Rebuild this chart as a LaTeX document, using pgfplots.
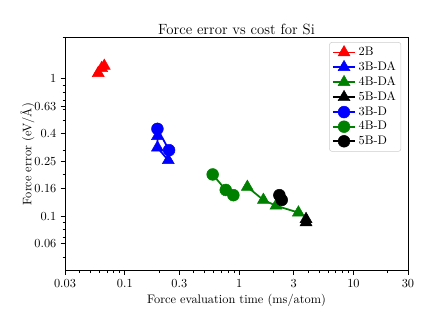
\documentclass[border=0pt]{standalone}
\usepackage{pgfplots}
\pgfplotsset{compat=1.18}
\definecolor{mplgreen}{RGB}{0,128,0}
\begin{document}
\begin{tikzpicture}
\begin{axis}[
  name=ax,
  scale only axis,
  width=278pt, height=189pt,
  xmode=log, ymode=log,
  xmin=0.03, xmax=30, ymin=0.04, ymax=2,
  xtick={0.03,0.1,0.3,1,3,10,30},
  xticklabels={0.03,0.1,0.3,1,3,10,30},
  ytick={0.0631,0.1,0.1585,0.2512,0.3981,0.631,1},
  yticklabels={0.06,0.1,0.16,0.25,0.4,0.63,1},
  minor xtick={0.04,0.05,0.06,0.07,0.08,0.09,0.2,0.4,0.5,0.6,0.7,0.8,0.9,2,4,5,6,7,8,9,20},
  minor ytick={0.05,0.07,0.08,0.09,0.2,0.3,0.5,0.6,0.7,0.8,0.9,2},
  tick pos=left, tick align=outside,
  major tick length=3.5pt, minor tick length=2pt,
  tick style={black, line width=0.6pt},
  axis line style={line width=0.8pt},
  title={Force error vs cost for Si},
  title style={font=\large, yshift=-7pt},
  xlabel={Force evaluation time (ms/atom)},
  ylabel={Force error (eV/\AA)},
  xlabel style={yshift=2pt},
  ylabel shift=-7pt,
  legend style={at={(0.98,0.98)}, anchor=north east, draw=black!20,
    rounded corners=2pt, font=\normalsize, row sep=-0.5pt, inner sep=2pt},
  legend cell align=left,
  legend image code/.code={\draw[mark repeat=2,mark phase=2]
    plot coordinates {(0cm,0cm)(0.32cm,0cm)(0.64cm,0cm)};},
  every axis plot/.append style={line width=1.4pt},
]
% triangles: DA models
\addplot[red, mark=triangle*, mark size=5.6pt, mark options={line width=0.4pt}]
  coordinates {(0.0586,1.10) (0.0628,1.195) (0.0662,1.24)};
\addlegendentry{2B}
\addplot[blue, mark=triangle*, mark size=5.6pt, mark options={line width=0.4pt}]
  coordinates {(0.193,0.382) (0.193,0.315) (0.240,0.255)};
\addlegendentry{3B-DA}
\addplot[mplgreen, mark=triangle*, mark size=5.6pt, mark options={line width=0.4pt}]
  coordinates {(1.18,0.163) (1.63,0.131) (2.10,0.119) (3.30,0.106)};
\addlegendentry{4B-DA}
\addplot[black, mark=triangle*, mark size=5.6pt, mark options={line width=0.4pt}]
  coordinates {(3.85,0.095) (3.85,0.090)};
\addlegendentry{5B-DA}
% circles: D models
\addplot[blue, mark=*, mark size=4.8pt, mark options={line width=0.4pt}]
  coordinates {(0.193,0.432) (0.244,0.302)};
\addlegendentry{3B-D}
\addplot[mplgreen, mark=*, mark size=4.8pt, mark options={line width=0.4pt}]
  coordinates {(0.587,0.201) (0.764,0.155) (0.891,0.142)};
\addlegendentry{4B-D}
\addplot[black, mark=*, mark size=4.8pt, mark options={line width=0.4pt}]
  coordinates {(2.25,0.142) (2.36,0.131)};
\addlegendentry{5B-D}
\end{axis}
\path ([shift={(-52.7pt,-45.4pt)}]ax.south west) rectangle ([shift={(22.7pt,30.4pt)}]ax.north east);
\end{tikzpicture}
\end{document}
